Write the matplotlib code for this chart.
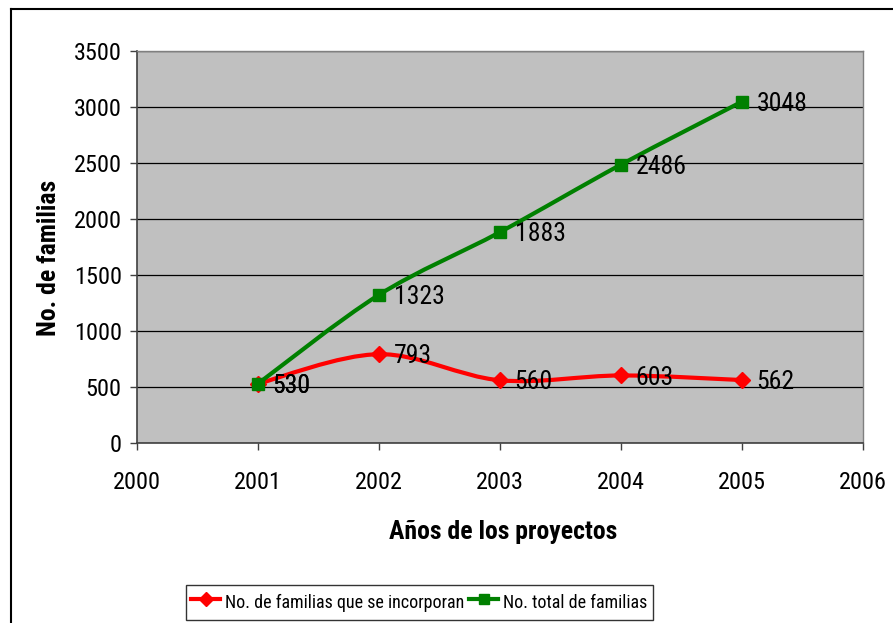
import numpy as np
import matplotlib
matplotlib.use("Agg")
import matplotlib.pyplot as plt
from matplotlib.path import Path
from matplotlib.patches import PathPatch
from matplotlib.lines import Line2D

# Data
years = [2001, 2002, 2003, 2004, 2005]
incorporadas = [530, 793, 560, 603, 562]
total = [530, 1323, 1883, 2486, 3048]
serie_nombres = ["No. de familias que se incorporan", "No. total de familias"]
x_ticks = [2000, 2001, 2002, 2003, 2004, 2005, 2006]
y_ticks = [0, 500, 1000, 1500, 2000, 2500, 3000, 3500]

plt.rcParams["font.family"] = ["Roboto Condensed", "Liberation Sans", "DejaVu Sans"]


def smooth_path(xs, ys):
    """Cubic Bezier path through the points (Excel-like smoothed line)."""
    pts = np.column_stack([xs, ys]).astype(float)
    ext = np.vstack([pts[0], pts, pts[-1]])
    verts = [pts[0]]
    codes = [Path.MOVETO]
    for i in range(len(pts) - 1):
        p0, p1, p2, p3 = ext[i], ext[i + 1], ext[i + 2], ext[i + 3]
        c1 = p1 + (p2 - p0) / 6.0
        c2 = p2 - (p3 - p1) / 6.0
        verts += [c1, c2, p2]
        codes += [Path.CURVE4] * 3
    return Path(verts, codes)


fig = plt.figure(figsize=(8.93, 6.23), dpi=100)
W, H = 893, 623
ax = fig.add_axes([137 / W, 1 - 443 / H, (863 - 137) / W, (443 - 51) / H])
ax.set_facecolor("#C0C0C0")

# outer chart frame
fig.add_artist(Line2D([11 / W, 11 / W], [0, 1 - 9 / H], transform=fig.transFigure,
                      color="black", lw=1.5))
fig.add_artist(Line2D([11 / W, 1], [1 - 9 / H, 1 - 9 / H], transform=fig.transFigure,
                      color="black", lw=1.5))

series = [
    (incorporadas, "#FF0000", "D", 8.5),
    (total, "#008000", "s", 8),
]
handles = []
for (vals, color, marker, ms), name in zip(series, serie_nombres):
    ax.add_patch(PathPatch(smooth_path(years, vals), fill=False, edgecolor=color,
                           lw=3, zorder=3, capstyle="round", joinstyle="round"))
    ax.plot(years, vals, linestyle="none", marker=marker, ms=ms, color=color,
            markeredgecolor=color, zorder=4)
    handles.append(Line2D([], [], color=color, lw=3, marker=marker, ms=ms - 1,
                          markeredgecolor=color, label=name))
    for x, v in zip(years, vals):
        ax.annotate(str(v), xy=(x, v), xytext=(10.5, -1.5), textcoords="offset points",
                    ha="left", va="center", fontsize=18.5, zorder=5)

ax.set_xlim(2000, 2006)
ax.set_ylim(0, 3500)
ax.set_xticks(x_ticks)
ax.set_yticks(y_ticks)
ax.yaxis.grid(True, color="black", lw=0.9)
ax.set_axisbelow(True)
ax.tick_params(axis="both", direction="out", length=5, width=1, color="#404040",
               labelsize=17.5)
ax.tick_params(axis="x", pad=15)
ax.tick_params(axis="y", pad=6)

for side in ["top", "right"]:
    ax.spines[side].set_color("#808080")
    ax.spines[side].set_linewidth(1)
for side in ["left", "bottom"]:
    ax.spines[side].set_color("#404040")
    ax.spines[side].set_linewidth(1.2)

fig.text(503 / W, 1 - 532 / H, "Años de los proyectos", ha="center", va="center",
         fontsize=18.5, fontweight="bold")
fig.text(49 / W, 1 - 258 / H, "No. de familias", ha="center", va="center",
         rotation=90, fontsize=18.5, fontweight="bold")

leg = fig.legend(handles=handles, loc="lower left",
                 bbox_to_anchor=(186 / W, 3 / H), ncol=2, fontsize=13,
                 frameon=True, fancybox=False, handlelength=1.6, handleheight=1.7,
                 handletextpad=0.25, columnspacing=0.3, borderpad=0.3,
                 borderaxespad=0)
leg.get_frame().set_edgecolor("black")
leg.get_frame().set_linewidth(1)

fig.savefig("out.png", dpi=100, facecolor="white")
